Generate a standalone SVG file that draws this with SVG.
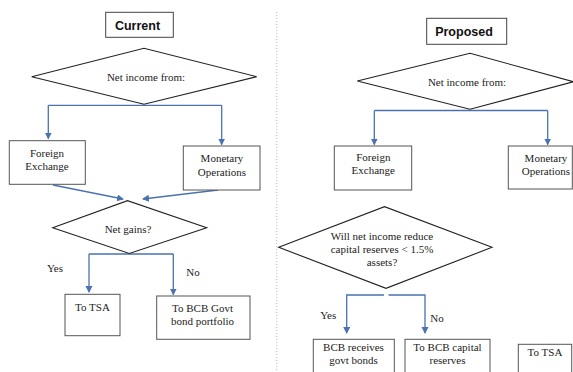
<svg xmlns="http://www.w3.org/2000/svg" width="573" height="372" viewBox="0 0 573 372">
<defs>
<style>
.box{fill:#fff;stroke:#555;stroke-width:1}
.title{fill:#fff;stroke:#444;stroke-width:1}
.dia{fill:#fff;stroke:#222;stroke-width:1.1}
.t{font-family:'Liberation Serif','Times New Roman',serif;font-size:11px;fill:#222;text-anchor:middle}
.h{font-family:'Liberation Sans',Arial,sans-serif;font-size:12.5px;font-weight:bold;fill:#111;text-anchor:middle}
.c{fill:none;stroke:#4a72b0;stroke-width:1.3}
</style>
<marker id="ah" markerWidth="8" markerHeight="8" refX="6" refY="3.5" orient="auto" markerUnits="userSpaceOnUse">
<path d="M0,0 L7,3.5 L0,7 Z" fill="#4a72b0"/>
</marker>
</defs>
<rect width="573" height="372" fill="#fff"/>
<line x1="276.7" y1="12" x2="276.7" y2="372" stroke="#bbb" stroke-width="1" stroke-dasharray="1,2"/>

<g id="connectors">
<path class="c" d="M48.3,105.3 H221.7"/>
<path class="c" d="M48.3,105.3 V138.5" marker-end="url(#ah)"/>
<path class="c" d="M221.7,105.3 V144.5" marker-end="url(#ah)"/>
<path class="c" d="M53,185 L123,199" marker-end="url(#ah)"/>
<path class="c" d="M218,190 L143,199" marker-end="url(#ah)"/>
<path class="c" d="M89,254 H173.3"/>
<path class="c" d="M89,254 V292" marker-end="url(#ah)"/>
<path class="c" d="M173.3,254 V294.5" marker-end="url(#ah)"/>
<path class="c" d="M374.3,110.5 H547.7"/>
<path class="c" d="M374.3,110.5 V144.5" marker-end="url(#ah)"/>
<path class="c" d="M547.7,110.5 V144.5" marker-end="url(#ah)"/>
<path class="c" d="M384,295 H346.7 V333" marker-end="url(#ah)"/>
<path class="c" d="M388.5,295 H425 V333" marker-end="url(#ah)"/>
</g>

<g id="current-title">
<rect class="title" x="105.7" y="12.3" width="67.6" height="25"/>
<text class="h" x="137.5" y="29.5">Current</text>
</g>
<g id="current-net-income" font-family="Liberation Serif, serif">
<polygon class="dia" points="31.7,76.7 144,48.3 256.7,76.7 144,104.3"/>
<text class="t" x="146" y="81">Net income from:</text>
</g>
<g id="current-fx">
<rect class="box" x="9.3" y="140.7" width="76" height="43.6"/>
<text class="t" x="47" y="157">Foreign</text>
<text class="t" x="47" y="170">Exchange</text>
</g>
<g id="current-mo">
<rect class="box" x="183.3" y="146" width="76.7" height="44"/>
<text class="t" x="222" y="162">Monetary</text>
<text class="t" x="222" y="175.5">Operations</text>
</g>
<g id="current-net-gains">
<polygon class="dia" points="52.7,227.7 127.5,200.7 206.7,227.7 129.3,253.5"/>
<text class="t" x="128" y="232.5">Net gains?</text>
</g>
<g id="current-labels">
<text class="t" x="55" y="272">Yes</text>
<text class="t" x="193" y="275.5">No</text>
</g>
<g id="current-tsa">
<rect class="box" x="65" y="294.3" width="55" height="41.4"/>
<text class="t" x="92.5" y="310.5">To TSA</text>
</g>
<g id="current-bcb">
<rect class="box" x="156.7" y="296" width="93.3" height="43.3"/>
<text class="t" x="202.5" y="311.5">To BCB Govt</text>
<text class="t" x="202.5" y="325">bond portfolio</text>
</g>

<g id="proposed-title">
<rect class="title" x="426.7" y="18.3" width="80" height="26"/>
<text class="h" x="464" y="35.5">Proposed</text>
</g>
<g id="proposed-net-income">
<polygon class="dia" points="357.3,81 470,53.3 573.5,81.7 470,109.3"/>
<text class="t" x="467" y="86">Net income from:</text>
</g>
<g id="proposed-fx">
<rect class="box" x="334.3" y="146" width="77.4" height="44"/>
<text class="t" x="373.3" y="161">Foreign</text>
<text class="t" x="373.3" y="174">Exchange</text>
</g>
<g id="proposed-mo">
<rect class="box" x="508.3" y="146" width="64" height="43"/>
<text class="t" x="546" y="162">Monetary</text>
<text class="t" x="546" y="175">Operations</text>
</g>
<g id="proposed-question">
<polygon class="dia" points="278.7,247.3 384.5,206.7 492,247.3 386,288.3"/>
<text class="t" x="382" y="239.5">Will net income reduce</text>
<text class="t" x="382" y="253">capital reserves &lt; 1.5%</text>
<text class="t" x="382" y="265.5">assets?</text>
</g>
<g id="proposed-labels">
<text class="t" x="328.3" y="319">Yes</text>
<text class="t" x="437" y="321.5">No</text>
</g>
<g id="proposed-bonds">
<rect class="box" x="313.3" y="339.3" width="81" height="45"/>
<text class="t" x="353.5" y="350.5">BCB receives</text>
<text class="t" x="353.5" y="364">govt bonds</text>
</g>
<g id="proposed-capital">
<rect class="box" x="405" y="339.3" width="85" height="45"/>
<text class="t" x="447.5" y="350.5">To BCB capital</text>
<text class="t" x="447.5" y="364">reserves</text>
</g>
<g id="proposed-tsa">
<rect class="box" x="518.3" y="344.3" width="53.4" height="40"/>
<text class="t" x="545" y="355.5">To TSA</text>
</g>
</svg>
